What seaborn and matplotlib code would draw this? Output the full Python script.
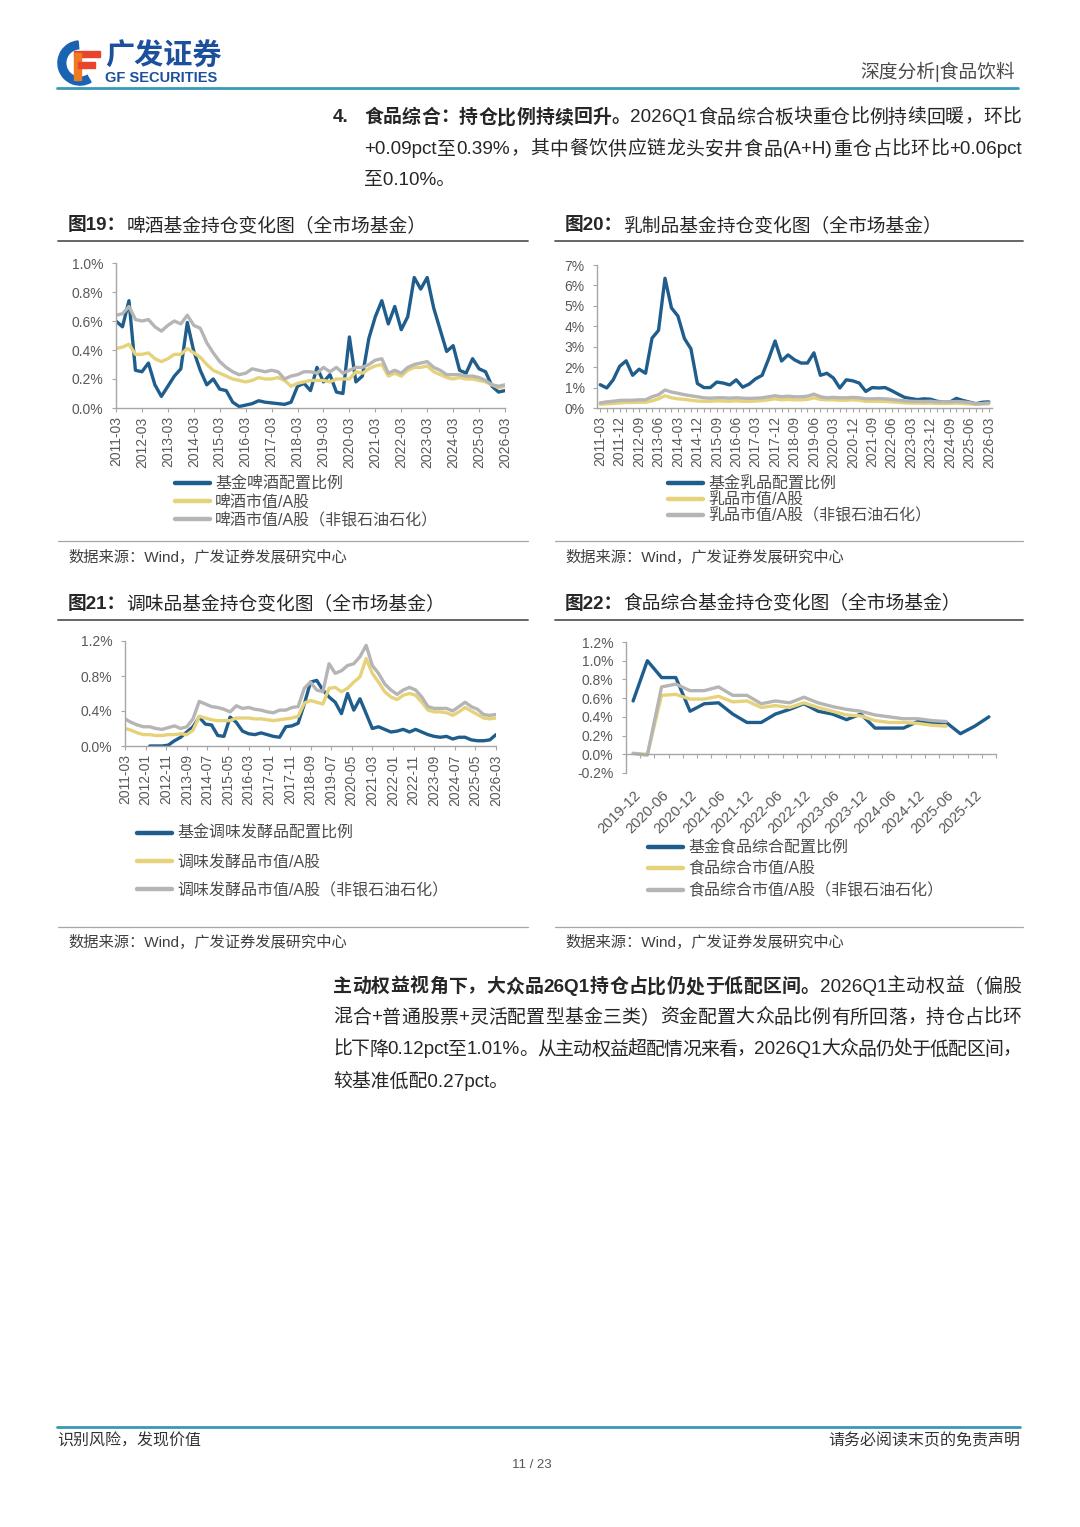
import re
import matplotlib
matplotlib.use("Agg")
import numpy as np
import pandas as pd
import matplotlib.pyplot as plt
import seaborn as sns
from matplotlib.lines import Line2D
from matplotlib.patches import Wedge, Rectangle
from matplotlib.ticker import PercentFormatter

W, H = 1080, 1527

# ---- data (values in %) ----
nan = np.nan

beer_ticks = ["2011-03", "2012-03", "2013-03", "2014-03", "2015-03", "2016-03", "2017-03", "2018-03",
              "2019-03", "2020-03", "2021-03", "2022-03", "2023-03", "2024-03", "2025-03", "2026-03"]
beer_labels = ["基金啤酒配置比例", "啤酒市值/A股", "啤酒市值/A股（非银石油石化）"]
beer_fund = [0.60, 0.56, 0.74, 0.26, 0.25, 0.31, 0.16, 0.08, 0.15, 0.22, 0.27, 0.59,
             0.39, 0.26, 0.16, 0.20, 0.13, 0.12, 0.04, 0.01, 0.02, 0.03, 0.05, 0.04,
             0.035, 0.03, 0.025, 0.04, 0.15, 0.17, 0.12, 0.28, 0.18, 0.23, 0.11, 0.10,
             0.49, 0.18, 0.22, 0.48, 0.63, 0.74, 0.58, 0.70, 0.54, 0.63, 0.90, 0.82,
             0.90, 0.69, 0.54, 0.39, 0.43, 0.26, 0.24, 0.34, 0.27, 0.25, 0.15, 0.11, 0.12]
beer_mkt = [0.41, 0.42, 0.44, 0.37, 0.37, 0.38, 0.34, 0.32, 0.34, 0.37, 0.37, 0.41,
            0.38, 0.35, 0.30, 0.26, 0.24, 0.22, 0.20, 0.19, 0.18, 0.19, 0.21, 0.20,
            0.20, 0.21, 0.19, 0.15, 0.17, 0.18, 0.19, 0.19, 0.19, 0.18, 0.20, 0.20,
            0.20, 0.25, 0.24, 0.27, 0.29, 0.30, 0.22, 0.24, 0.22, 0.26, 0.28, 0.28,
            0.29, 0.25, 0.23, 0.21, 0.20, 0.21, 0.20, 0.20, 0.19, 0.18, 0.16, 0.14, 0.15]
beer_ex = [0.64, 0.65, 0.70, 0.61, 0.60, 0.61, 0.56, 0.53, 0.57, 0.60, 0.58, 0.64,
           0.57, 0.55, 0.45, 0.38, 0.32, 0.28, 0.25, 0.23, 0.24, 0.27, 0.26, 0.25,
           0.26, 0.25, 0.20, 0.22, 0.23, 0.25, 0.25, 0.24, 0.28, 0.25, 0.28, 0.24,
           0.26, 0.28, 0.28, 0.30, 0.33, 0.34, 0.24, 0.26, 0.24, 0.28, 0.30, 0.31,
           0.32, 0.28, 0.26, 0.23, 0.23, 0.23, 0.22, 0.22, 0.21, 0.19, 0.16, 0.15, 0.16]

dairy_ticks = ["2011-03", "2011-12", "2012-09", "2013-06", "2014-03", "2014-12", "2015-09",
               "2016-06", "2017-03", "2017-12", "2018-09", "2019-06", "2020-03", "2020-12",
               "2021-09", "2022-06", "2023-03", "2023-12", "2024-09", "2025-06", "2026-03"]
dairy_labels = ["基金乳品配置比例", "乳品市值/A股", "乳品市值/A股（非银石油石化）"]
dairy_fund = [1.14, 0.98, 1.38, 2.04, 2.31, 1.60, 1.90, 1.70, 3.42, 3.80, 6.35, 4.90,
              4.50, 3.40, 2.90, 1.20, 1.00, 1.00, 1.27, 1.22, 1.13, 1.38, 1.02, 1.17,
              1.43, 1.60, 2.40, 3.28, 2.30, 2.60, 2.36, 2.20, 2.20, 2.70, 1.60, 1.70,
              1.47, 0.98, 1.38, 1.33, 1.22, 0.81, 1.00, 0.98, 1.00, 0.85, 0.68, 0.52,
              0.46, 0.41, 0.45, 0.43, 0.33, 0.29, 0.29, 0.47, 0.37, 0.29, 0.21, 0.28, 0.30]
dairy_mkt = [0.18, 0.20, 0.22, 0.25, 0.27, 0.27, 0.28, 0.28, 0.35, 0.45, 0.60, 0.50,
             0.45, 0.42, 0.38, 0.34, 0.33, 0.33, 0.35, 0.34, 0.33, 0.35, 0.33, 0.33,
             0.34, 0.36, 0.40, 0.45, 0.40, 0.42, 0.40, 0.40, 0.42, 0.50, 0.42, 0.40,
             0.40, 0.38, 0.38, 0.40, 0.38, 0.33, 0.33, 0.33, 0.32, 0.30, 0.28, 0.25,
             0.24, 0.24, 0.23, 0.24, 0.22, 0.22, 0.22, 0.24, 0.22, 0.20, 0.18, 0.20, 0.20]
dairy_ex = [0.25, 0.30, 0.33, 0.37, 0.38, 0.38, 0.40, 0.40, 0.55, 0.65, 0.88, 0.78,
            0.72, 0.65, 0.60, 0.55, 0.50, 0.48, 0.50, 0.50, 0.48, 0.50, 0.48, 0.47,
            0.48, 0.50, 0.55, 0.60, 0.55, 0.58, 0.55, 0.55, 0.58, 0.68, 0.55, 0.50,
            0.52, 0.50, 0.50, 0.52, 0.50, 0.45, 0.45, 0.46, 0.45, 0.42, 0.38, 0.35,
            0.33, 0.32, 0.32, 0.33, 0.30, 0.30, 0.30, 0.32, 0.30, 0.27, 0.20, 0.22, 0.25]

season_ticks = ["2011-03", "2012-01", "2012-11", "2013-09", "2014-07", "2015-05", "2016-03",
                "2017-01", "2017-11", "2018-09", "2019-07", "2020-05", "2021-03", "2022-01",
                "2022-11", "2023-09", "2024-07", "2025-05", "2026-03"]
season_labels = ["基金调味发酵品配置比例", "调味发酵品市值/A股", "调味发酵品市值/A股（非银石油石化）"]
season_fund = [nan, nan, nan, nan, 0.00, 0.00, 0.00, 0.01, 0.06, 0.10, 0.16, 0.22,
               0.33, 0.25, 0.24, 0.12, 0.11, 0.33, 0.27, 0.17, 0.14, 0.13, 0.15, 0.13,
               0.11, 0.10, 0.22, 0.23, 0.26, 0.48, 0.73, 0.75, 0.64, 0.56, 0.50, 0.37,
               0.60, 0.41, 0.54, 0.37, 0.20, 0.22, 0.19, 0.16, 0.17, 0.19, 0.16, 0.19,
               0.16, 0.13, 0.11, 0.10, 0.11, 0.08, 0.10, 0.10, 0.07, 0.06, 0.06, 0.07, 0.13]
season_mkt = [0.20, 0.18, 0.15, 0.13, 0.13, 0.12, 0.12, 0.13, 0.13, 0.14, 0.13, 0.18,
              0.34, 0.32, 0.30, 0.29, 0.29, 0.29, 0.32, 0.32, 0.32, 0.31, 0.31, 0.30,
              0.29, 0.30, 0.31, 0.32, 0.34, 0.49, 0.52, 0.50, 0.48, 0.66, 0.67, 0.62,
              0.66, 0.73, 0.79, 1.00, 0.83, 0.73, 0.62, 0.56, 0.53, 0.58, 0.60, 0.58,
              0.50, 0.41, 0.39, 0.39, 0.38, 0.35, 0.39, 0.44, 0.40, 0.36, 0.32, 0.31, 0.32]
season_ex = [0.31, 0.27, 0.24, 0.22, 0.22, 0.20, 0.19, 0.21, 0.23, 0.20, 0.22, 0.31,
             0.51, 0.48, 0.45, 0.44, 0.42, 0.39, 0.46, 0.43, 0.44, 0.42, 0.41, 0.39,
             0.38, 0.41, 0.41, 0.44, 0.45, 0.66, 0.73, 0.64, 0.62, 0.94, 0.83, 0.86,
             0.92, 0.94, 1.02, 1.15, 0.92, 0.83, 0.71, 0.64, 0.59, 0.64, 0.67, 0.64,
             0.56, 0.45, 0.43, 0.43, 0.43, 0.40, 0.45, 0.50, 0.45, 0.42, 0.36, 0.35, 0.36]

food_ticks = ["2019-12", "2020-06", "2020-12", "2021-06", "2021-12", "2022-06", "2022-12",
              "2023-06", "2023-12", "2024-06", "2024-12", "2025-06", "2025-12"]
food_labels = ["基金食品综合配置比例", "食品综合市值/A股", "食品综合市值/A股（非银石油石化）"]
food_fund = [0.57, 1.00, 0.82, 0.82, 0.46, 0.54, 0.55, 0.43, 0.34, 0.34, 0.43, 0.48, 0.54,
             0.46, 0.43, 0.37, 0.43, 0.28, 0.28, 0.28, 0.35, 0.33, 0.34, 0.22, 0.30, 0.40]
food_mkt = [0.01, 0.00, 0.63, 0.64, 0.59, 0.59, 0.62, 0.56, 0.57, 0.50, 0.52, 0.50, 0.55,
            0.50, 0.46, 0.42, 0.41, 0.36, 0.34, 0.34, 0.33, 0.31, 0.30, nan, nan, nan]
food_ex = [0.01, -0.01, 0.72, 0.75, 0.68, 0.68, 0.72, 0.63, 0.63, 0.54, 0.57, 0.55, 0.61,
           0.55, 0.51, 0.48, 0.46, 0.42, 0.40, 0.38, 0.38, 0.36, 0.35, nan, nan, nan]

LINE_COLORS = ["#1f5d8c", "#e6d27a", "#b5b5b5"]
TICK_COLOR = "#595959"
AXIS_COLOR = "#a6a6a6"
TEXT_COLOR = "#262626"

sns.set_theme(style="white")
plt.rcParams["font.family"] = ["Liberation Sans", "Noto Sans CJK SC"]
plt.rcParams["axes.unicode_minus"] = False
plt.rcParams["lines.solid_joinstyle"] = "round"
plt.rcParams["lines.solid_capstyle"] = "round"

fig = plt.figure(figsize=(W / 100, H / 100), dpi=100)
renderer = fig.canvas.get_renderer()


def px_rect(x0, y0, x1, y1):
    return [x0 / W, 1 - y1 / H, (x1 - x0) / W, (y1 - y0) / H]


def hline(x0, x1, y, color, lw):
    fig.add_artist(Line2D([x0 / W, x1 / W], [1 - y / H, 1 - y / H],
                          transform=fig.transFigure, color=color, lw=lw))


def text_runs(x, y, parts, size, color=TEXT_COLOR, right=None):
    # pieces of text on one line; with `right` the line is justified to that edge
    pieces = []
    for s, bold in parts:
        chunks = re.findall(r"[\x00-\x7f]+|.", s) if right else [s]
        for ch in chunks:
            pieces.append(fig.text(x / W, 1 - y / H, ch, fontsize=size, color=color,
                                   va="center", ha="left",
                                   fontweight="bold" if bold else "normal"))
    widths = [t.get_window_extent(renderer=renderer).width for t in pieces]
    gap = 0
    if right and len(pieces) > 1:
        gap = (right - x - sum(widths)) / (len(pieces) - 1)
    for t, w in zip(pieces, widths):
        t.set_x(x / W)
        x += w + gap


def line_chart(box, x, series, labels, xlim, ylim, yticks, ydec):
    ax = fig.add_axes(px_rect(*box))
    df = pd.concat([pd.DataFrame({"x": x, "v": v, "s": lab}) for v, lab in zip(series, labels)],
                   ignore_index=True).dropna()
    sns.lineplot(data=df, x="x", y="v", hue="s", hue_order=labels, palette=LINE_COLORS,
                 linewidth=2.4, errorbar=None, ax=ax)
    ax.set_xlim(*xlim)
    ax.set_ylim(*ylim)
    ax.set_yticks(yticks)
    ax.yaxis.set_major_formatter(PercentFormatter(100, decimals=ydec))
    ax.set_xlabel("")
    ax.set_ylabel("")
    for side in ["top", "right"]:
        ax.spines[side].set_visible(False)
    for side in ["left", "bottom"]:
        ax.spines[side].set_color(AXIS_COLOR)
        ax.spines[side].set_linewidth(1)
    ax.tick_params(axis="y", left=True, length=3, width=0.8, color=AXIS_COLOR, pad=6,
                   labelsize=10, labelcolor=TICK_COLOR)
    ax.tick_params(axis="x", bottom=True, length=3, width=0.8, color=AXIS_COLOR, pad=3,
                   labelsize=10, labelcolor=TICK_COLOR)
    ax.get_legend().remove()
    return ax


def legend(ax, x, y_mid, spacing):
    handles, labs = ax.get_legend_handles_labels()
    leg = ax.legend(handles, labs, loc="center left", bbox_to_anchor=(x / W, 1 - y_mid / H),
                    bbox_transform=fig.transFigure, frameon=False, borderpad=0, borderaxespad=0,
                    handlelength=2.2, handletextpad=0.3, labelspacing=spacing,
                    prop={"size": 11.5})
    for h in leg.get_lines():
        h.set_linewidth(3.2)
    for t in leg.get_texts():
        t.set_color("#4d4d4d")


# ---- header ----
logo = fig.add_axes(px_rect(57, 40, 103, 86))
logo.set_xlim(0, 1)
logo.set_ylim(0, 1)
logo.set_aspect("equal")
logo.axis("off")
logo.add_patch(Wedge((0.5, 0.5), 0.48, 95, 300, width=0.17, color="#1a62b2"))
logo.add_patch(Rectangle((0.38, 0.62), 0.55, 0.14, color="#e8452c"))
logo.add_patch(Rectangle((0.38, 0.12), 0.15, 0.6, color="#f07a22"))
logo.add_patch(Rectangle((0.45, 0.40), 0.38, 0.12, color="#e8452c"))
fig.text(105 / W, 1 - 57 / H, "广发证券", fontsize=21, fontweight="bold", color="#1c4f9c",
         va="center", ha="left")
fig.text(105 / W, 1 - 78 / H, "GF SECURITIES", fontsize=10.5, fontweight="bold", color="#1c4f9c",
         va="center", ha="left")
fig.text(1015 / W, 1 - 72 / H, "深度分析|食品饮料", fontsize=13.5, color="#4a4a4a",
         va="center", ha="right")
hline(57, 1018, 88, "#3a98b9", 2)

# ---- paragraph 1 ----
PS = 13.6
text_runs(333, 118, [("4.", True)], PS)
text_runs(364, 118, [("食品综合：持仓比例持续回升。", True),
                     ("2026Q1食品综合板块重仓比例持续回暖，环比", False)], PS, right=1021)
text_runs(364, 150, [("+0.09pct至0.39%，其中餐饮供应链龙头安井食品(A+H)重仓占比环比+0.06pct", False)],
          PS, right=1022)
text_runs(364, 181, [("至0.10%。", False)], PS)

# ---- chart frames ----
TS = 13.5
SS = 11
for (x0, x1, xt, yt, ytl, ysl, ys, title) in [
        (58, 528, 68, 226, 241, 541, 557, ("图19：", "啤酒基金持仓变化图（全市场基金）")),
        (555, 1023, 565, 226, 241, 541, 557, ("图20：", "乳制品基金持仓变化图（全市场基金）")),
        (58, 528, 68, 604, 620, 927, 942, ("图21：", "调味品基金持仓变化图（全市场基金）")),
        (555, 1023, 565, 604, 620, 927, 942, ("图22：", "食品综合基金持仓变化图（全市场基金）"))]:
    text_runs(xt, yt, [(title[0], True), (title[1], False)], TS)
    hline(x0, x1, ytl, "#595959", 1.3)
    hline(x0, x1, ysl, "#a6a6a6", 0.9)
    text_runs(xt, ys, [("数据来源：Wind，广发证券发展研究中心", False)], SS, color="#404040")

# ---- chart 19 ----
q = np.arange(len(beer_fund))
ax1 = line_chart((116, 263, 505, 408), q, [beer_fund, beer_mkt, beer_ex], beer_labels,
                 (0, 60), (0, 1.0), np.arange(0, 1.01, 0.2), 1)
ax1.set_xticks(np.arange(0, 61, 4), beer_ticks, rotation=90)
legend(ax1, 175, 502, 0.2)

# ---- chart 20 ----
ax2 = line_chart((597, 265, 992, 408), q, [dairy_fund, dairy_mkt, dairy_ex], dairy_labels,
                 (-0.5, 60.5), (0, 7), np.arange(0, 8, 1), 0)
ax2.set_xticks(np.arange(0, 61, 3), dairy_ticks, rotation=90)
ax2.set_xticks(np.arange(0, 61, 1), minor=True)
ax2.tick_params(axis="x", which="minor", bottom=True, length=3, width=0.8, color=AXIS_COLOR)
legend(ax2, 668, 500, 0.02)

# ---- chart 21 ----
months = np.arange(0, 181, 3)
ax3 = line_chart((125, 641, 496, 746), months, [season_fund, season_mkt, season_ex], season_labels,
                 (0, 180), (0, 1.2), np.arange(0, 1.21, 0.4), 1)
ax3.set_xticks(np.arange(0, 181, 10), season_ticks, rotation=90)
legend(ax3, 137, 862, 0.83)

# ---- chart 22 ----
c = np.arange(len(food_fund))
ax4 = line_chart((626, 642, 996, 773), c, [food_fund, food_mkt, food_ex], food_labels,
                 (-0.5, 25.5), (-0.2, 1.2), np.arange(-0.2, 1.21, 0.2), 1)
ax4.spines["bottom"].set_position(("data", 0))
ax4.set_xticks(np.arange(-0.5, 25.6, 1))
ax4.tick_params(axis="x", labelbottom=False)
sec = ax4.secondary_xaxis("bottom")
sec.set_xticks(np.arange(0, 25, 2), food_ticks)
sec.spines["bottom"].set_visible(False)
sec.tick_params(axis="x", length=0, pad=11, labelsize=10.5, labelcolor=TICK_COLOR)
for t in sec.get_xticklabels():
    t.set_rotation(45)
    t.set_ha("right")
    t.set_rotation_mode("anchor")
legend(ax4, 648, 869, 0.39)

# ---- paragraph 2 ----
text_runs(333, 987, [("主动权益视角下，大众品26Q1持仓占比仍处于低配区间。", True),
                     ("2026Q1主动权益（偏股", False)], PS, right=1021)
text_runs(333, 1018, [("混合+普通股票+灵活配置型基金三类）资金配置大众品比例有所回落，持仓占比环", False)],
          PS, right=1021)
text_runs(333, 1050, [("比下降0.12pct至1.01%。从主动权益超配情况来看，2026Q1大众品仍处于低配区间，", False)],
          PS, right=1021)
text_runs(333, 1081, [("较基准低配0.27pct。", False)], PS)

# ---- footer ----
hline(57, 1020, 1427, "#3a98b9", 2)
fig.text(57 / W, 1 - 1441 / H, "识别风险，发现价值", fontsize=11.5, color="#333333", va="center", ha="left")
fig.text(1020 / W, 1 - 1441 / H, "请务必阅读末页的免责声明", fontsize=11.5, color="#333333",
         va="center", ha="right")
fig.text(532 / W, 1 - 1465 / H, "11 / 23", fontsize=9.5, color="#555555", va="center", ha="center")

fig.savefig("out.png", dpi=100)
